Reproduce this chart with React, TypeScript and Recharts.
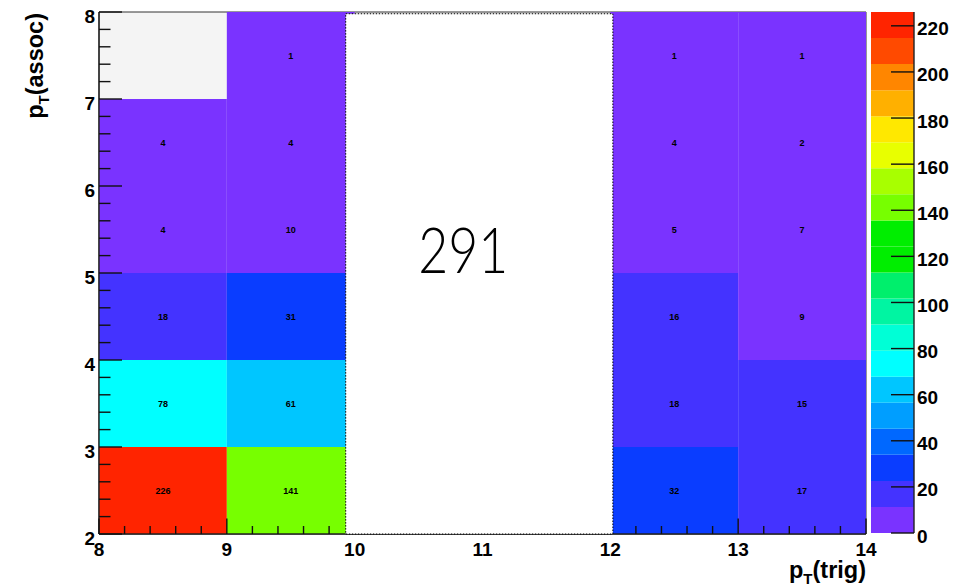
import React from 'react';
import { ComposedChart, XAxis, YAxis, ReferenceArea, Scatter } from 'recharts';

// ---- data ----
const xBinLow = [8, 9, 12, 13];
const yBinLow = [2, 3, 4, 5, 6, 7];
const binWidth = 1;
// counts per x-bin column, from y=2 upward
const counts_8_9 = [226, 78, 18, 4, 4, 0];
const counts_9_10 = [141, 61, 31, 10, 4, 1];
const counts_12_13 = [32, 18, 16, 5, 4, 1];
const counts_13_14 = [17, 15, 9, 7, 2, 1];
const columns = [counts_8_9, counts_9_10, counts_12_13, counts_13_14];
const boxTotal = '291';

const xMajorTicks = [8, 9, 10, 11, 12, 13, 14];
const yMajorTicks = [2, 3, 4, 5, 6, 7, 8];
const zTicks = [0, 20, 40, 60, 80, 100, 120, 140, 160, 180, 200, 220];
const zMax = 226;
const palette = [
  '#7a33ff', '#4433ff', '#0a3dff', '#0068ff', '#009eff',
  '#00c6ff', '#00ffff', '#00ffd6', '#00f5a2', '#00ef6c',
  '#00ee00', '#00ee00', '#77ff00', '#a8ff00', '#e8ff00',
  '#ffe800', '#ffb000', '#ff8600', '#ff4a00', '#ff2400',
];

// ---- derived ----
const nMinor = 5;
const withMinor = (majors: number[]) => {
  const out: number[] = [];
  majors.forEach((m, i) => {
    out.push(m);
    if (i < majors.length - 1) {
      for (let k = 1; k < nMinor; k++) out.push(+(m + (k * (majors[i + 1] - m)) / nMinor).toFixed(4));
    }
  });
  return out;
};
const xTicks = withMinor(xMajorTicks);
const yTicks = withMinor(yMajorTicks);

const colorFor = (v: number) => {
  const idx = Math.min(palette.length - 1, Math.floor((v / zMax) * palette.length));
  return palette[idx];
};

const cells: { x1: number; x2: number; y1: number; y2: number; v: number }[] = [];
columns.forEach((col, i) => {
  col.forEach((v, j) => {
    cells.push({ x1: xBinLow[i], x2: xBinLow[i] + binWidth, y1: yBinLow[j], y2: yBinLow[j] + binWidth, v });
  });
});
const filledCells = cells.filter((c) => c.v > 0);
const labelPoints = filledCells.map((c) => ({ x: (c.x1 + c.x2) / 2, y: (c.y1 + c.y2) / 2, v: c.v }));

const bandStep = zMax / palette.length;
const bands = palette.map((c, k) => ({ y1: k * bandStep, y2: (k + 1) * bandStep, c }));

const FONT = '"Liberation Sans", Arial, Helvetica, sans-serif';
const PLOT_LEFT = 99;
const PLOT_BOTTOM = 534;

const isMajor = (v: number) => Math.abs(v - Math.round(v)) < 1e-6;

const XTick = (props: any) => {
  const { x, payload } = props;
  const v = payload.value;
  const major = isMajor(v);
  const hidden = v > 9.9 && v < 12.1;
  return (
    <g>
      {!hidden && (
        <line x1={x} x2={x} y1={PLOT_BOTTOM} y2={PLOT_BOTTOM - (major ? 15.5 : 8)} stroke="#111" strokeWidth={1.4} />
      )}
      {major && (
        <text x={x} y={556} textAnchor="middle" fontFamily={FONT} fontWeight="bold" fontSize={19} fill="#000">
          {Math.round(v)}
        </text>
      )}
    </g>
  );
};

const YTick = (props: any) => {
  const { y, payload } = props;
  const v = payload.value;
  const major = isMajor(v);
  return (
    <g>
      <line x1={PLOT_LEFT} x2={PLOT_LEFT + (major ? 23 : 11.5)} y1={y} y2={y} stroke="#111" strokeWidth={1.4} />
      {major && (
        <text x={95} y={y + 11} textAnchor="end" fontFamily={FONT} fontWeight="bold" fontSize={19} fill="#000">
          {Math.round(v)}
        </text>
      )}
    </g>
  );
};

const ZTick = (props: any) => {
  const { y, payload } = props;
  return (
    <g>
      <line x1={20} x2={43} y1={y} y2={y} stroke="#111" strokeWidth={1.4} />
      <text x={46} y={y + 9.5} textAnchor="start" fontFamily={FONT} fontWeight="bold" fontSize={19} fill="#000">
        {payload.value}
      </text>
    </g>
  );
};

const CellLabel = (props: any) => {
  const { cx, cy, payload } = props;
  return (
    <text x={cx} y={cy + 3} textAnchor="middle" fontFamily={FONT} fontWeight="bold" fontSize={9} fill="#000">
      {payload.v}
    </text>
  );
};

const BoxLabel = (props: any) => {
  const vb = props.viewBox || {};
  return (
    <text
      x={vb.x + vb.width * 0.44}
      y={vb.y + vb.height * 0.498}
      textAnchor="middle"
      fontFamily='Lato, "Open Sans", sans-serif'
      fontWeight={300}
      fontSize={63}
      textLength={90}
      lengthAdjust="spacingAndGlyphs"
      fill="#000"
    >
      {boxTotal}
    </text>
  );
};

export default function App() {
  return (
    <div style={{ position: 'relative', width: 973, height: 588, background: '#fff', overflow: 'hidden' }}>
      <style>{`body{margin:0;background:#fff}`}</style>
      <ComposedChart
        width={973}
        height={588}
        data={labelPoints}
        margin={{ top: 12, right: 107, bottom: 0, left: 0 }}
        style={{ position: 'absolute', left: 0, top: 0 }}
      >
        <ReferenceArea x1={8} x2={14} y1={2} y2={8} fill="#f4f4f4" fillOpacity={1} stroke="#333" strokeWidth={1} />
        {filledCells.map((c, i) => (
          <ReferenceArea
            key={i}
            x1={c.x1}
            x2={c.x2}
            y1={c.y1}
            y2={c.y2}
            fill={colorFor(c.v)}
            fillOpacity={1}
            stroke="none"
          />
        ))}
        <XAxis
          type="number"
          dataKey="x"
          domain={[8, 14]}
          ticks={xTicks}
          interval={0}
          height={54}
          tickLine={false}
          axisLine={{ stroke: '#222', strokeWidth: 1.4 }}
          tick={<XTick />}
          allowDataOverflow
        />
        <YAxis
          type="number"
          dataKey="y"
          domain={[2, 8]}
          ticks={yTicks}
          interval={0}
          width={99}
          tickLine={false}
          axisLine={{ stroke: '#222', strokeWidth: 1.4 }}
          tick={<YTick />}
          allowDataOverflow
        />
        <Scatter data={labelPoints} dataKey="y" shape={<CellLabel />} isAnimationActive={false} />
        <ReferenceArea
          x1={9.93}
          x2={12.02}
          y1={2}
          y2={7.98}
          fill="#fff"
          fillOpacity={1}
          stroke="#000"
          strokeWidth={1}
          strokeDasharray="1.5 1.5"
          label={<BoxLabel />}
          zIndex={800}
        />
      </ComposedChart>

      <ComposedChart
        width={102}
        height={588}
        data={[{ b: 0.5, z: 0 }, { b: 0.5, z: zMax }]}
        margin={{ top: 12, right: 0, bottom: 55, left: 0 }}
        style={{ position: 'absolute', left: 871, top: 0 }}
      >
        <XAxis type="number" dataKey="b" domain={[0, 1]} hide />
        <YAxis
          type="number"
          dataKey="z"
          orientation="right"
          domain={[0, zMax]}
          ticks={zTicks}
          interval={0}
          width={59}
          tickLine={false}
          axisLine={{ stroke: '#222', strokeWidth: 1.4 }}
          tick={<ZTick />}
          allowDataOverflow
        />
        {bands.map((b, k) => (
          <ReferenceArea key={k} x1={0} x2={1} y1={b.y1} y2={b.y2} fill={b.c} fillOpacity={1} stroke="none" />
        ))}
        <Scatter dataKey="z" shape={() => <g />} isAnimationActive={false} />
      </ComposedChart>

      <svg
        width={973}
        height={588}
        style={{ position: 'absolute', left: 0, top: 0, pointerEvents: 'none' }}
      >
        <text
          x={43}
          y={13}
          transform="rotate(-90 43 13)"
          textAnchor="end"
          fontFamily={FONT}
          fontWeight="bold"
          fontSize={23.5}
          fill="#000"
        >
          <tspan>p</tspan>
          <tspan fontSize={15} dy={6}>T</tspan>
          <tspan dy={-6}>(assoc)</tspan>
        </text>
        <text x={866} y={578} textAnchor="end" fontFamily={FONT} fontWeight="bold" fontSize={23.5} fill="#000">
          <tspan>p</tspan>
          <tspan fontSize={15} dy={6}>T</tspan>
          <tspan dy={-6}>(trig)</tspan>
        </text>
      </svg>
    </div>
  );
}
